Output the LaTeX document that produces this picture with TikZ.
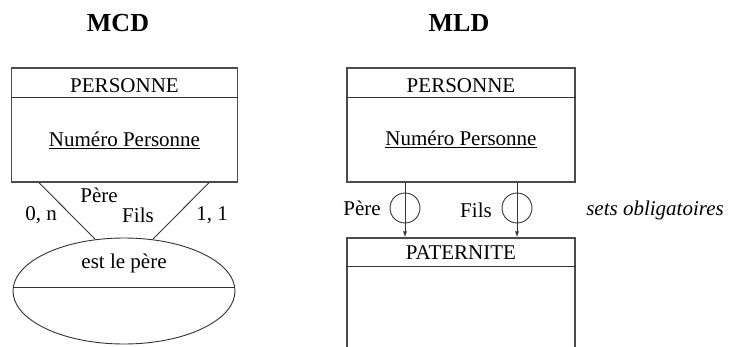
\documentclass[tikz,border=0pt]{standalone}
\usepackage{fontspec}
\setmainfont{Liberation Serif}
\usetikzlibrary{arrows.meta,shapes.geometric}
\tikzset{entity/.style={draw=black!70,line width=1.3pt,minimum width=226pt,minimum height=114pt,inner sep=0pt},
 link/.style={draw=black!80,line width=0.9pt},
 title/.style={font=\bfseries\fontsize{26}{30}\selectfont},
 every node/.style={font=\fontsize{21}{24}\selectfont}}

\begin{document}
\begin{tikzpicture}[x=1pt,y=-1pt]
\clip (0,0) rectangle (729,346);
% titles
\node[title] (tMCD) at (118,23) {MCD};
\node[title] (tMLD) at (459,23) {MLD};
% MCD side
\node[entity] (persA) at (124.5,125) {};
\draw[link] ([yshift=-30pt]persA.north west) -- ([yshift=-30pt]persA.north east);
\node (persAname) at (124.5,86) {PERSONNE};
\node (persAkey) at (124.5,140) {\underline{Numéro Personne}};
\node[ellipse,link,minimum width=222pt,minimum height=106pt,inner sep=0pt] (rel) at (124,291) {};
\draw[link] ([yshift=4pt]rel.west) -- ([yshift=4pt]rel.east);
\node (relname) at (124,263) {est le père};
\draw[link] ([xshift=28pt]persA.south west) -- (rel.119);
\draw[link] ([xshift=-29pt]persA.south east) -- (rel.61);
\node (cardA) at (41,215) {0, n};
\node (roleA) at (99,195) {Père};
\node (roleB) at (138,215) {Fils};
\node (cardB) at (212,215) {1, 1};
% MLD side
\node[entity,minimum width=228pt] (persB) at (461,125) {};
\draw[link] ([yshift=-30pt]persB.north west) -- ([yshift=-30pt]persB.north east);
\node (persBname) at (461,86) {PERSONNE};
\node (persBkey) at (461,139) {\underline{Numéro Personne}};
\node[entity,minimum width=228pt,minimum height=160pt] (pat) at (461,318) {};
\draw[link] ([yshift=-29pt]pat.north west) -- ([yshift=-29pt]pat.north east);
\node (patname) at (461,253) {PATERNITE};
\foreach \i/\x in {1/405,2/517} {
 \node[circle,link,minimum size=30pt,inner sep=0pt] (set\i) at (\x,208) {};
 \draw[link,-{Latex[length=6pt,width=4pt]}] (persB.south -| set\i) -- (pat.north -| set\i);
}
\node (roleC) at (362,208) {Père};
\node (roleD) at (476,210) {Fils};
\node[font=\itshape\fontsize{21}{24}\selectfont] (note) at (655,210) {sets obligatoires};
\end{tikzpicture}
\end{document}
